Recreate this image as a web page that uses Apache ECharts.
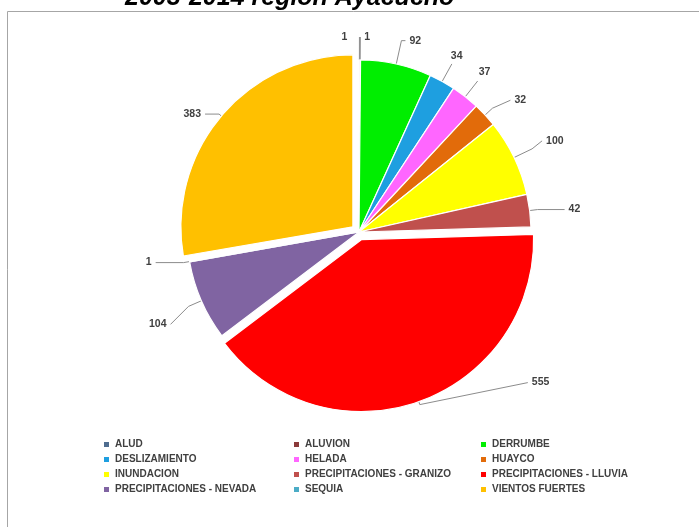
<!DOCTYPE html>
<html>
<head>
<meta charset="utf-8">
<script src="https://cdn.jsdelivr.net/npm/echarts@6/dist/echarts.min.js"></script>
<style>
  html, body { margin: 0; padding: 0; background: #ffffff; }
  #chart { width: 699px; height: 527px; }
</style>
</head>
<body>
<div id="chart"></div>
<script>
// Emergencias por tipo de fenómeno, 2003-2014, región Ayacucho
const categories = [
  'ALUD', 'ALUVION', 'DERRUMBE', 'DESLIZAMIENTO', 'HELADA', 'HUAYCO',
  'INUNDACION', 'PRECIPITACIONES - GRANIZO', 'PRECIPITACIONES - LLUVIA',
  'PRECIPITACIONES - NEVADA', 'SEQUIA', 'VIENTOS FUERTES'
];
const values = [1, 1, 92, 34, 37, 32, 100, 42, 555, 104, 1, 383];
const colors = [
  '#4f6d8f', '#8b3a3a', '#00ee00', '#1e9fe0', '#ff66ff', '#e26b0a',
  '#ffff00', '#c0504d', '#ff0000', '#8064a2', '#4bacc6', '#ffc000'
];
const explodedSlices = ['PRECIPITACIONES - LLUVIA', 'VIENTOS FUERTES'];
const titleText = '2003-2014 región Ayacucho';

// leader line lengths per slice
const leader = {
  'ALUD': { length: 23, length2: 0 },
  'ALUVION': { length: 23, length2: 0 },
  'DERRUMBE': { length: 24, length2: 4 },
  'DESLIZAMIENTO': { length: 20, length2: 0 },
  'HELADA': { length: 20, length2: 0 },
  'HUAYCO': { length: 10, length2: 18 },
  'INUNDACION': { length: 20, length2: 10 },
  'PRECIPITACIONES - GRANIZO': { length: 8, length2: 27 },
  'PRECIPITACIONES - LLUVIA': { length: 3, length2: 108 },
  'PRECIPITACIONES - NEVADA': { length: 14, length2: 18 },
  'SEQUIA': { length: 6, length2: 28 },
  'VIENTOS FUERTES': { length: 3, length2: 14 }
};
// label nudges: moveLine also drags the end of the leader line
const nudge = {
  'ALUD': { dx: -22, dy: 0, moveLine: false },
  'DESLIZAMIENTO': { dx: -5, dy: -8, moveLine: false },
  'HELADA': { dx: -3, dy: -9, moveLine: false },
  'HUAYCO': { dx: 0, dy: -8, moveLine: true },
  'INUNDACION': { dx: 0, dy: -8, moveLine: true },
  'PRECIPITACIONES - NEVADA': { dx: 0, dy: 18, moveLine: true }
};
// the exploded slice label sits on the upper line of a two-line block,
// so it rises by half the line height; its leader end follows
const raised = { 'PRECIPITACIONES - LLUVIA': 22 };

const pieData = categories.map((name, i) => {
  const item = {
    name: name,
    value: values[i],
    selected: explodedSlices.indexOf(name) >= 0,
    itemStyle: { color: colors[i] },
    labelLine: leader[name]
  };
  if (raised[name]) {
    const lift = { formatter: '{c}\n\u00a0', lineHeight: raised[name] * 2 };
    item.label = lift;
    item.select = { label: lift };
  }
  return item;
});

const legendFont = {
  fontFamily: 'Liberation Sans, Arial, sans-serif',
  fontSize: 10,
  fontWeight: 'bold',
  color: '#404040',
  lineHeight: 11
};
const legendColumns = [
  { left: 102, names: [0, 3, 6, 9] },
  { left: 292, names: [1, 4, 7, 10] },
  { left: 479, names: [2, 5, 8, 11] }
];

const chart = echarts.init(document.getElementById('chart'), null, { renderer: 'canvas' });
chart.setOption({
  animation: false,
  backgroundColor: '#ffffff',
  graphic: [
    {
      type: 'rect', silent: true,
      shape: { x: 7.5, y: 11.5, width: 700, height: 530 },
      style: { fill: 'none', stroke: '#a6a6a6', lineWidth: 1 }
    },
    {
      type: 'text', silent: true, left: 125, top: -14,
      style: {
        text: titleText,
        font: 'italic bold 25px "Liberation Sans", Arial, sans-serif',
        fill: '#000000'
      }
    }
  ],
  legend: legendColumns.map(col => ({
    orient: 'vertical',
    left: col.left,
    top: 439,
    padding: 0,
    itemWidth: 7,
    itemHeight: 7,
    itemGap: 4,
    icon: 'rect',
    selectedMode: false,
    textStyle: legendFont,
    data: col.names.map(i => categories[i])
  })),
  series: [{
    type: 'pie',
    center: [359, 232],
    radius: 172,
    startAngle: 90,
    clockwise: true,
    selectedMode: 'multiple',
    selectedOffset: 8,
    avoidLabelOverlap: false,
    itemStyle: { borderColor: '#ffffff', borderWidth: 1.2 },
    emphasis: { disabled: true },
    label: {
      show: true,
      position: 'outside',
      formatter: '{c}',
      fontFamily: 'Liberation Sans, Arial, sans-serif',
      fontSize: 10.5,
      fontWeight: 'bold',
      color: '#404040',
      distanceToLabelLine: 4
    },
    labelLine: {
      show: true,
      lineStyle: { color: '#8c8c8c', width: 1 }
    },
    labelLayout: function (params) {
      const name = categories[params.dataIndex];
      const pts = params.labelLinePoints;
      if (raised[name] && pts) {
        const p = pts.map(q => q.slice());
        p[2][1] -= raised[name];
        return { labelLinePoints: p };
      }
      const n = nudge[name];
      if (!n) return {};
      const r = params.labelRect;
      const ax = params.align === 'right' ? r.x + r.width : r.x;
      const ay = r.y + r.height / 2;
      const out = { x: ax + n.dx, y: ay + n.dy };
      if (pts) {
        const p = pts.map(q => q.slice());
        if (n.moveLine) {
          p[2][0] += n.dx;
          p[2][1] += n.dy;
        }
        out.labelLinePoints = p;
      }
      return out;
    },
    data: pieData
  }]
});
</script>
</body>
</html>
